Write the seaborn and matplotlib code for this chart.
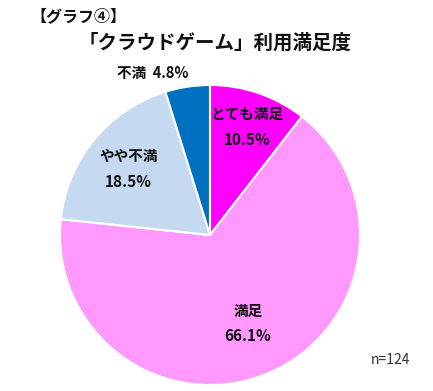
import matplotlib
matplotlib.use("Agg")
import matplotlib.pyplot as plt
import numpy as np
import seaborn as sns

# 「クラウドゲーム」利用満足度 (n=124)
labels = ["とても満足", "満足", "やや不満", "不満"]
values = [10.5, 66.1, 18.5, 4.8]
colors = ["#FF00FF", "#FF99FF", "#C5D9F1", "#0070C0"]

sns.set_theme(style="white")
plt.rcParams['font.family'] = ['Noto Sans CJK JP', 'DejaVu Sans']

fig = plt.figure(figsize=(4.33, 3.91), dpi=100)
W, H = 433, 391

# パイの位置 (ピクセル指定)
cx, cy, r = 210, 235, 150
ax = fig.add_axes([(cx - r) / W, (H - cy - r) / H, 2 * r / W, 2 * r / H])
wedges, _ = ax.pie(values, colors=colors, startangle=90, counterclock=False,
                   radius=1.0, wedgeprops=dict(edgecolor="white", linewidth=1.5))
ax.set_xlim(-1, 1)
ax.set_ylim(-1, 1)
ax.set_aspect("equal")
ax.axis("off")

# ラベル
cum = np.cumsum([0] + values[:-1])
for i, (lab, v) in enumerate(zip(labels, values)):
    mid = np.deg2rad(90 - (cum[i] + v / 2) * 3.6)
    if lab == "不満":
        ax.text(-0.38, 1.08, f"{lab}  {v:.1f}%", ha="center", va="center",
                fontsize=10.5, fontweight="bold", color="#111111")
        continue
    rr = {"とても満足": 0.76, "満足": 0.64, "やや不満": 0.70}[lab]
    x, y = rr * np.cos(mid), rr * np.sin(mid)
    ax.text(x, y + 0.085, lab, ha="center", va="center", fontsize=10.5,
            fontweight="bold", color="#111111")
    ax.text(x, y - 0.085, f"{v:.1f}%", ha="center", va="center", fontsize=11,
            fontweight="bold", color="#111111")

fig.text(30 / W, 1 - 16 / H, "【グラフ④】", ha="left", va="center",
         fontsize=11.5, fontweight="bold", color="#111111")
fig.text(215 / W, 1 - 43 / H, "「クラウドゲーム」利用満足度", ha="center",
         va="center", fontsize=14, fontweight="bold", color="#111111")
fig.text(390 / W, 1 - 360 / H, "n=124", ha="center", va="center",
         fontsize=10, color="#333333")

fig.savefig("out.png", dpi=100)
